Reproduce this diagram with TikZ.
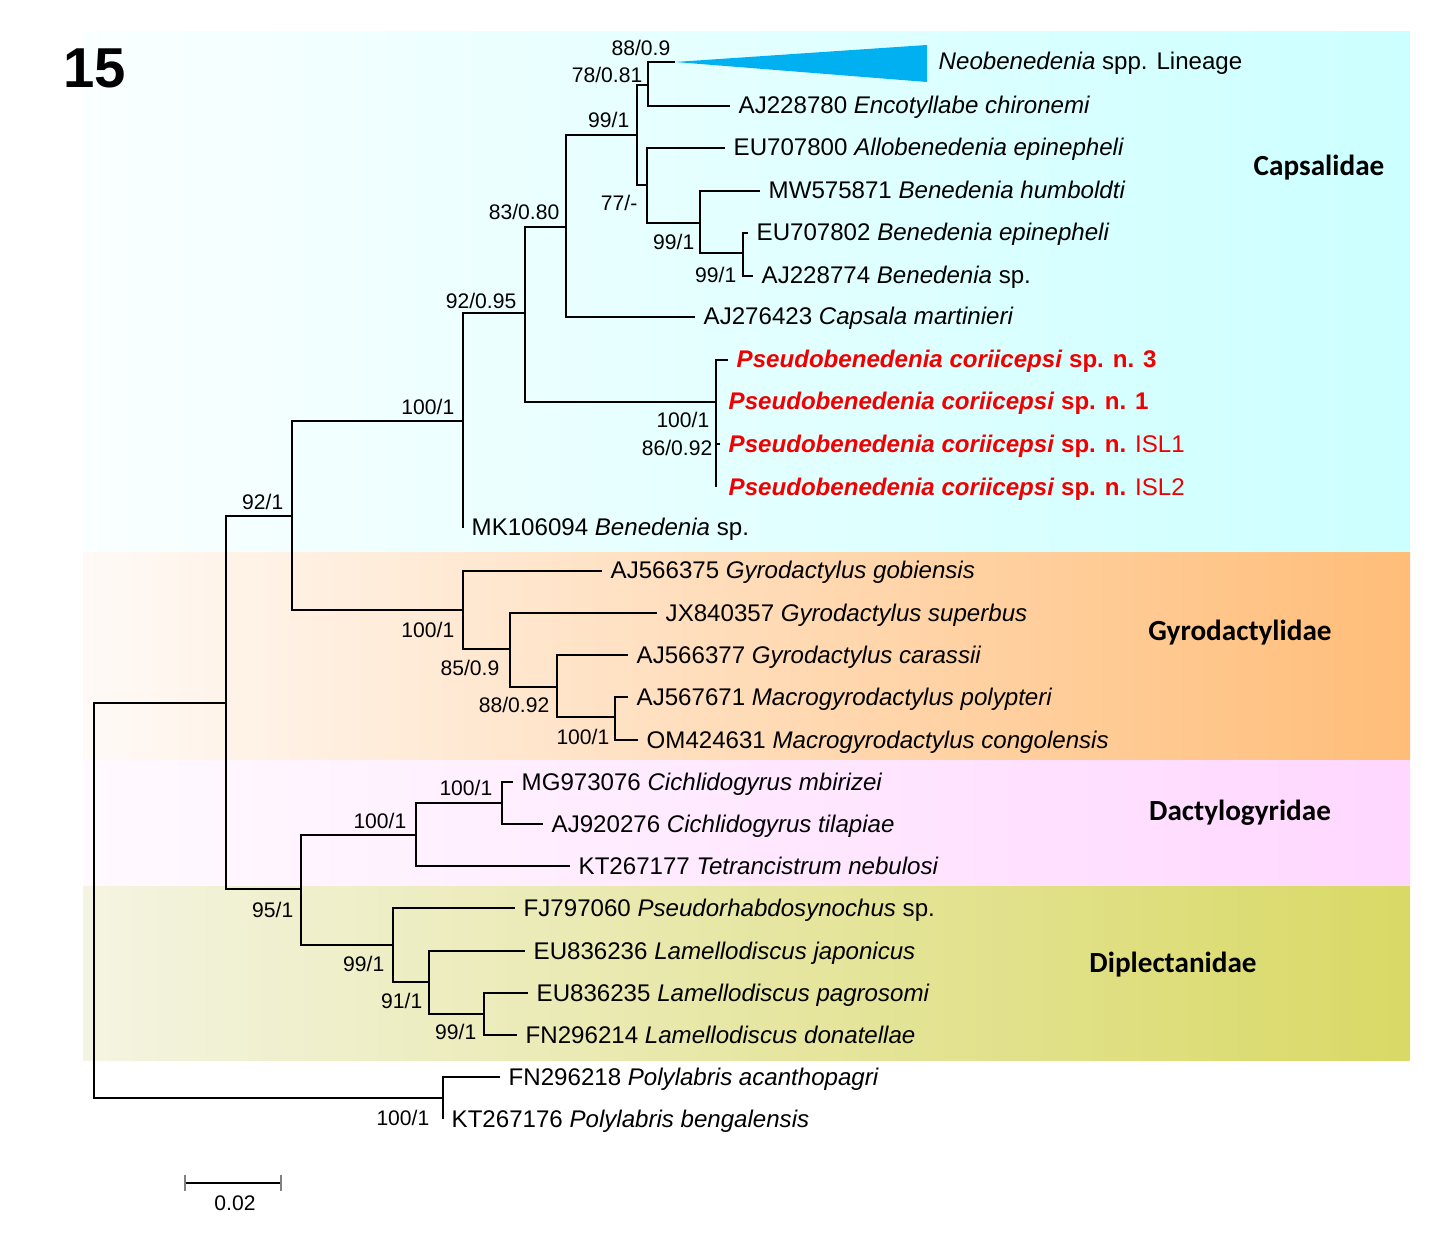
\documentclass[tikz,border=0pt]{standalone}
\usepackage{fontspec}
\setmainfont{Liberation Sans}
\newfontfamily\famfont{Carlito}
\definecolor{capL}{RGB}{250,255,255}
\definecolor{capR}{RGB}{204,255,255}
\definecolor{gyrL}{RGB}{255,250,247}
\definecolor{gyrR}{RGB}{255,189,120}
\definecolor{dacL}{RGB}{255,250,255}
\definecolor{dacR}{RGB}{255,215,255}
\definecolor{dipL}{RGB}{244,244,226}
\definecolor{dipR}{RGB}{217,217,102}
\definecolor{neoblue}{RGB}{0,176,240}
\definecolor{pcred}{RGB}{240,0,0}
\begin{document}
\begin{tikzpicture}[x=0.01cm,y=-0.01cm,
  branch/.style={line width=0.6pt},
  tip/.style={anchor=base west,inner sep=0pt,xshift=0.08cm,yshift=-0.08cm,font=\fontsize{6.85}{8}\selectfont},
  newsp/.style={tip,text=pcred},
  supval/.style={anchor=east,inner sep=0pt,font=\fontsize{6}{7}\selectfont},
  family/.style={font=\famfont\bfseries\fontsize{8.3}{10}\selectfont}]
\useasboundingbox (0,0) rectangle (1430,1240);

\shade [left color=capL, right color=capR] (83,32) rectangle (1410,553);
\shade [left color=gyrL, right color=gyrR] (83,553) rectangle (1410,761);
\shade [left color=dacL, right color=dacR] (83,761) rectangle (1410,887);
\shade [left color=dipL, right color=dipR] (83,887) rectangle (1410,1060);

\node [font=\bfseries\fontsize{16}{18}\selectfont] (panel) at (95,68) {15};
\node [family] (capsalidae) at (1319,168) {Capsalidae};
\node [family] (gyrodactylidae) at (1240,633) {Gyrodactylidae};
\node [family] (dactylogyridae) at (1240,813) {Dactylogyridae};
\node [family] (diplectanidae) at (1173,965) {Diplectanidae};

\coordinate (root) at (94,900);
\coordinate (nA) at (226,703);
\coordinate (nA1) at (292,516);
\coordinate (nCa) at (463,421);
\coordinate (nB) at (525,313);
\coordinate (nC) at (566,227);
\coordinate (nD) at (637,135);
\coordinate (nE) at (648,85);
\coordinate (nF) at (647,185);
\coordinate (nG) at (700,223);
\coordinate (nH) at (743,253);
\coordinate (nP) at (716,402);
\coordinate (nGy) at (463,610);
\coordinate (nGy2) at (510,649);
\coordinate (nGy3) at (557,687);
\coordinate (nGy4) at (615,717);
\coordinate (nK) at (301,889);
\coordinate (nDa) at (416,835);
\coordinate (nDa2) at (502,803);
\coordinate (nDi) at (393,945);
\coordinate (nDi2) at (429,982);
\coordinate (nDi3) at (484,1014);
\coordinate (nPo) at (443,1098);

\coordinate (tNeo) at (675,62);
\coordinate (tEnc) at (730,106);
\coordinate (tAllo) at (725,148);
\coordinate (tBhum) at (760,191);
\coordinate (tBepi) at (748,233);
\coordinate (tBsp) at (753,276);
\coordinate (tCmar) at (695,317);
\coordinate (tPc3) at (728,360);
\coordinate (tPc1) at (716,402);
\coordinate (tIsl1) at (720,444);
\coordinate (tIsl2) at (716,487);
\coordinate (tMK) at (463,528);
\coordinate (tGgob) at (602,571);
\coordinate (tGsup) at (657,613);
\coordinate (tGcar) at (628,655);
\coordinate (tMpol) at (628,697);
\coordinate (tMcon) at (638,740);
\coordinate (tCmbi) at (513,782);
\coordinate (tCtil) at (543,824);
\coordinate (tTneb) at (570,866);
\coordinate (tPsp) at (515,908);
\coordinate (tLjap) at (525,951);
\coordinate (tLpag) at (528,993);
\coordinate (tLdon) at (517,1035);
\coordinate (tPaca) at (500,1077);
\coordinate (tPben) at (443,1119);

\draw [branch] (root) |- (nA);
\draw [branch] (root) |- (nPo);
\draw [branch] (nA) |- (nA1);
\draw [branch] (nA) |- (nK);
\draw [branch] (nA1) |- (nCa);
\draw [branch] (nA1) |- (nGy);
\draw [branch] (nCa) |- (nB);
\draw [branch] (nCa) |- (tMK);
\draw [branch] (nB) |- (nC);
\draw [branch] (nB) |- (nP);
\draw [branch] (nC) |- (nD);
\draw [branch] (nC) |- (tCmar);
\draw [branch] (nD) |- (nE);
\draw [branch] (nD) |- (nF);
\draw [branch] (nE) |- (tNeo);
\draw [branch] (nE) |- (tEnc);
\draw [branch] (nF) |- (tAllo);
\draw [branch] (nF) |- (nG);
\draw [branch] (nG) |- (tBhum);
\draw [branch] (nG) |- (nH);
\draw [branch] (nH) |- (tBepi);
\draw [branch] (nH) |- (tBsp);
\draw [branch] (nP) |- (tPc3);
\draw [branch] (nP) |- (tIsl1);
\draw [branch] (nP) |- (tIsl2);
\draw [branch] (nGy) |- (tGgob);
\draw [branch] (nGy) |- (nGy2);
\draw [branch] (nGy2) |- (tGsup);
\draw [branch] (nGy2) |- (nGy3);
\draw [branch] (nGy3) |- (tGcar);
\draw [branch] (nGy3) |- (nGy4);
\draw [branch] (nGy4) |- (tMpol);
\draw [branch] (nGy4) |- (tMcon);
\draw [branch] (nK) |- (nDa);
\draw [branch] (nK) |- (nDi);
\draw [branch] (nDa) |- (nDa2);
\draw [branch] (nDa) |- (tTneb);
\draw [branch] (nDa2) |- (tCmbi);
\draw [branch] (nDa2) |- (tCtil);
\draw [branch] (nDi) |- (tPsp);
\draw [branch] (nDi) |- (nDi2);
\draw [branch] (nDi2) |- (tLjap);
\draw [branch] (nDi2) |- (nDi3);
\draw [branch] (nDi3) |- (tLpag);
\draw [branch] (nDi3) |- (tLdon);
\draw [branch] (nPo) |- (tPaca);
\draw [branch] (nPo) |- (tPben);

\coordinate (triTop) at (927,45);
\coordinate (triBot) at (927,82);
\coordinate (triEnd) at (930,62);
\fill [neoblue] (tNeo) -- (triTop) -- (triBot) -- cycle;

\node [tip] (lNeo) at (triEnd) {\textit{Neobenedenia} spp. Lineage};
\node [tip] (lEnc) at (tEnc) {AJ228780 \textit{Encotyllabe chironemi}};
\node [tip] (lAllo) at (tAllo) {EU707800 \textit{Allobenedenia epinepheli}};
\node [tip] (lBhum) at (tBhum) {MW575871 \textit{Benedenia humboldti}};
\node [tip] (lBepi) at (tBepi) {EU707802 \textit{Benedenia epinepheli}};
\node [tip] (lBsp) at (tBsp) {AJ228774 \textit{Benedenia} sp.};
\node [tip] (lCmar) at (tCmar) {AJ276423 \textit{Capsala martinieri}};
\node [newsp] (lPc3) at (tPc3) {\textbf{\textit{Pseudobenedenia coriicepsi} sp. n. 3}};
\node [newsp, xshift=0.04cm] (lPc1) at (tPc1) {\textbf{\textit{Pseudobenedenia coriicepsi} sp. n. 1}};
\node [newsp] (lIsl1) at (tIsl1) {\textbf{\textit{Pseudobenedenia coriicepsi} sp. n.} ISL1};
\node [newsp, xshift=0.04cm] (lIsl2) at (tIsl2) {\textbf{\textit{Pseudobenedenia coriicepsi} sp. n.} ISL2};
\node [tip] (lMK) at (tMK) {MK106094 \textit{Benedenia} sp.};
\node [tip] (lGgob) at (tGgob) {AJ566375 \textit{Gyrodactylus gobiensis}};
\node [tip] (lGsup) at (tGsup) {JX840357 \textit{Gyrodactylus superbus}};
\node [tip] (lGcar) at (tGcar) {AJ566377 \textit{Gyrodactylus carassii}};
\node [tip] (lMpol) at (tMpol) {AJ567671 \textit{Macrogyrodactylus polypteri}};
\node [tip] (lMcon) at (tMcon) {OM424631 \textit{Macrogyrodactylus congolensis}};
\node [tip] (lCmbi) at (tCmbi) {MG973076 \textit{Cichlidogyrus mbirizei}};
\node [tip] (lCtil) at (tCtil) {AJ920276 \textit{Cichlidogyrus tilapiae}};
\node [tip] (lTneb) at (tTneb) {KT267177 \textit{Tetrancistrum nebulosi}};
\node [tip] (lPsp) at (tPsp) {FJ797060 \textit{Pseudorhabdosynochus} sp.};
\node [tip] (lLjap) at (tLjap) {EU836236 \textit{Lamellodiscus japonicus}};
\node [tip] (lLpag) at (tLpag) {EU836235 \textit{Lamellodiscus pagrosomi}};
\node [tip] (lLdon) at (tLdon) {FN296214 \textit{Lamellodiscus donatellae}};
\node [tip] (lPaca) at (tPaca) {FN296218 \textit{Polylabris acanthopagri}};
\node [tip] (lPben) at (tPben) {KT267176 \textit{Polylabris bengalensis}};

\node [supval] (sE1) at (671,48) {88/0.9};
\node [supval] (sE2) at (643,75) {78/0.81};
\node [supval] (sD) at (630,120) {99/1};
\node [supval] (sC) at (560,212) {83/0.80};
\node [supval] (sF) at (638,203) {77/-};
\node [supval] (sG) at (695,242) {99/1};
\node [supval] (sH) at (737,275) {99/1};
\node [supval] (sB) at (517,301) {92/0.95};
\node [supval] (sCa) at (455,407) {100/1};
\node [supval] (sP1) at (710,420) {100/1};
\node [supval] (sP2) at (713,448) {86/0.92};
\node [supval] (sA1) at (284,502) {92/1};
\node [supval] (sGy) at (455,630) {100/1};
\node [supval] (sGy2) at (500,668) {85/0.9};
\node [supval] (sGy3) at (550,705) {88/0.92};
\node [supval] (sGy4) at (610,737) {100/1};
\node [supval] (sDa2) at (493,788) {100/1};
\node [supval] (sDa) at (407,821) {100/1};
\node [supval] (sK) at (294,910) {95/1};
\node [supval] (sDi) at (385,964) {99/1};
\node [supval] (sDi2) at (423,1001) {91/1};
\node [supval] (sDi3) at (477,1032) {99/1};
\node [supval] (sPo) at (430,1118) {100/1};

\coordinate (sbL) at (185,1183);
\coordinate (sbR) at (281,1183);
\draw [branch] (sbL) -- (sbR);
\draw [gray] (sbL) ++(0,-8) -- ++(0,16);
\draw [gray] (sbR) ++(0,-8) -- ++(0,16);
\node [supval, anchor=center] (scale) at (235,1203) {0.02};

\end{tikzpicture}
\end{document}
